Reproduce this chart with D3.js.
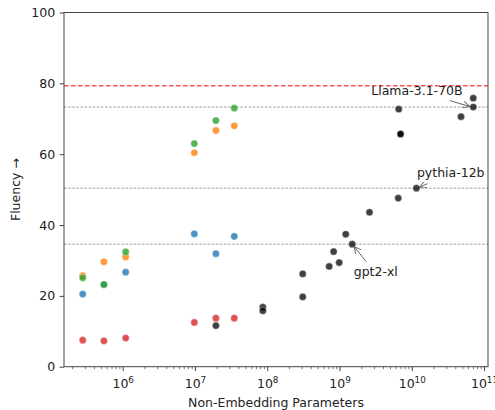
<!DOCTYPE html>
<html>
<head>
<meta charset="utf-8">
<script src="https://cdn.jsdelivr.net/npm/d3@7"></script>
<style>
  html, body { margin: 0; padding: 0; background: #fff; }
  svg { display: block; font-family: "DejaVu Sans", sans-serif; }
</style>
</head>
<body>
<svg id="chart" width="495" height="410"></svg>
<script>
// Small models: parameter counts shared by the four coloured series
const smallParams = [2.8e5, 5.5e5, 1.1e6, 9.8e6, 1.95e7, 3.5e7];
const blueVals   = [20.5, 23.2, 26.7, 37.5, 31.9, 36.8];
const orangeVals = [25.7, 29.6, 31.0, 60.4, 66.7, 68.0];
const greenVals  = [25.1, 23.2, 32.4, 63.0, 69.5, 73.0];
const redVals    = [7.5, 7.3, 8.1, 12.5, 13.7, 13.7];

// Reference pretrained models
const refParams = [1.95e7, 8.7e7, 8.7e7, 3.1e8, 3.1e8, 7.2e8, 8.3e8, 9.9e8, 1.22e9, 1.5e9,
                   2.6e9, 6.5e9, 1.16e10, 6.6e9, 7.0e9, 7.0e9, 4.8e10, 7.1e10, 7.1e10];
const refVals   = [11.6, 16.8, 15.8, 26.2, 19.7, 28.3, 32.5, 29.4, 37.4, 34.6,
                   43.6, 47.6, 50.4, 72.7, 65.7, 65.7, 70.6, 75.8, 73.3];

// Labelled models and their horizontal guide lines
const annNames  = ["Llama-3.1-70B", "pythia-12b", "gpt2-xl"];
const annParams = [7.1e10, 1.16e10, 1.5e9];
const annVals   = [73.3, 50.4, 34.6];
const topLine = 79.3;

const yTicks = [0, 20, 40, 60, 80, 100];
const xTickExps = [6, 7, 8, 9, 10, 11];

const svg = d3.select("#chart");
const L = 64, R = 488, T = 12.5, B = 366.7;

const x = d3.scaleLog().domain([Math.pow(10, 5.188), Math.pow(10, 11.055)]).range([L, R]);
const y = d3.scaleLinear().domain([0, 100]).range([B, T]);

const axisColor = "#444";
const textColor = "#222";

// guide lines
svg.append("g").selectAll("line").data(annVals).join("line")
  .attr("x1", L).attr("x2", R)
  .attr("y1", d => y(d)).attr("y2", d => y(d))
  .attr("stroke", "#888").attr("stroke-width", 0.8)
  .attr("stroke-dasharray", "2.6,1.5");

svg.append("line")
  .attr("x1", L).attr("x2", R)
  .attr("y1", y(topLine)).attr("y2", y(topLine))
  .attr("stroke", "#ff3030").attr("stroke-opacity", 0.85)
  .attr("stroke-width", 1.6).attr("stroke-dasharray", "4.5,2.5");

// scatter series
const series = [
  { xs: smallParams, ys: blueVals,   color: "#1f77b4", op: 0.8 },
  { xs: smallParams, ys: orangeVals, color: "#ff7f0e", op: 0.8 },
  { xs: smallParams, ys: greenVals,  color: "#2ca02c", op: 0.8 },
  { xs: smallParams, ys: redVals,    color: "#d62728", op: 0.8 },
  { xs: refParams,   ys: refVals,    color: "#000000", op: 0.75 }
];
series.forEach(s => {
  svg.append("g").selectAll("circle").data(s.xs.map((v, i) => [v, s.ys[i]])).join("circle")
    .attr("cx", d => x(d[0])).attr("cy", d => y(d[1]))
    .attr("r", 3.6)
    .attr("fill", s.color).attr("fill-opacity", s.op)
    .attr("stroke", "#fff").attr("stroke-width", 0.4);
});

// annotations with arrows
svg.append("defs").append("marker")
  .attr("id", "ah").attr("viewBox", "0 0 10 10")
  .attr("refX", 10).attr("refY", 5)
  .attr("markerWidth", 7).attr("markerHeight", 7)
  .attr("markerUnits", "userSpaceOnUse")
  .attr("orient", "auto")
  .append("path").attr("d", "M0,0 L10,5 L0,10")
  .attr("fill", "none").attr("stroke", "#666").attr("stroke-width", 1.3);

const annStyle = [
  { tx: -102, ty: -12.5, ax0: -23.5, ay0: -6.5, ax1: -3.5, ay1: -0.5 },
  { tx: 0.5,  ty: -11.5, ax0: 11,   ay0: -4.5, ax1: 3,    ay1: -0.8 },
  { tx: 1.5,  ty: 32,    ax0: 14,   ay0: 17.5, ax1: 2,    ay1: 2.5 }
];
annNames.forEach((name, i) => {
  const px = x(annParams[i]), py = y(annVals[i]), s = annStyle[i];
  svg.append("line")
    .attr("x1", px + s.ax0).attr("y1", py + s.ay0)
    .attr("x2", px + s.ax1).attr("y2", py + s.ay1)
    .attr("stroke", "#666").attr("stroke-width", 1)
    .attr("marker-end", "url(#ah)");
  svg.append("text")
    .attr("x", px + s.tx).attr("y", py + s.ty)
    .attr("font-size", 12.5).attr("fill", textColor)
    .text(name);
});

// axes
const yAxis = d3.axisLeft(y).tickValues(yTicks).tickSize(4.4).tickPadding(4.4);
const gy = svg.append("g").attr("transform", `translate(${L},0)`).call(yAxis);
gy.select(".domain").remove();
gy.selectAll("line").attr("stroke", axisColor);
gy.selectAll("text").attr("font-size", 12.5).attr("fill", textColor)
  .attr("font-family", "DejaVu Sans, sans-serif");

// x ticks: major decades plus minor 2..9
const minorVals = [];
for (let e = 5; e <= 11; e++) for (let k = 2; k <= 9; k++) {
  const v = k * Math.pow(10, e);
  if (v >= x.domain()[0] && v <= x.domain()[1]) minorVals.push(v);
}
const gxMinor = svg.append("g").attr("transform", `translate(0,${B})`)
  .call(d3.axisBottom(x).tickValues(minorVals).tickSize(2.5).tickFormat(""));
gxMinor.select(".domain").remove();
gxMinor.selectAll("line").attr("stroke", axisColor).attr("stroke-width", 0.7);

const majorVals = xTickExps.map(e => Math.pow(10, e));
const gx = svg.append("g").attr("transform", `translate(0,${B})`)
  .call(d3.axisBottom(x).tickValues(majorVals).tickSize(4.4).tickFormat(""));
gx.select(".domain").remove();
gx.selectAll("line").attr("stroke", axisColor);
gx.selectAll(".tick").each(function(d, i) {
  const t = d3.select(this).append("text")
    .attr("y", 21).attr("text-anchor", "middle")
    .attr("fill", textColor).attr("font-size", 12.5)
    .attr("font-family", "DejaVu Sans, sans-serif");
  t.append("tspan").text("10");
  t.append("tspan").attr("dy", -5).attr("font-size", 8.8).text(String(xTickExps[i]));
});

// frame
svg.append("rect").attr("x", L).attr("y", T).attr("width", R - L).attr("height", B - T)
  .attr("fill", "none").attr("stroke", axisColor).attr("stroke-width", 1);

// axis labels
svg.append("text").attr("x", (L + R) / 2).attr("y", 407)
  .attr("text-anchor", "middle").attr("font-size", 12.5).attr("fill", textColor)
  .text("Non-Embedding Parameters");
svg.append("text")
  .attr("transform", `translate(19.5,${(T + B) / 2}) rotate(-90)`)
  .attr("text-anchor", "middle").attr("font-size", 12.5).attr("fill", textColor)
  .text("Fluency →");
</script>
</body>
</html>
